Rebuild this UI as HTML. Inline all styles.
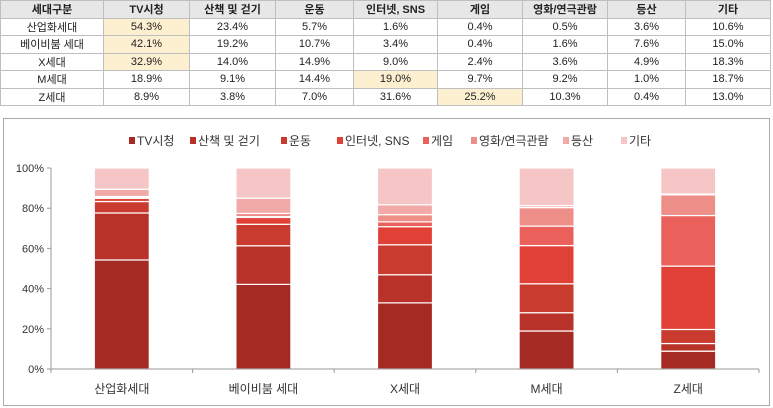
<!DOCTYPE html>
<html><head><meta charset="utf-8">
<style>
body{margin:0;width:773px;height:408px;background:#fff;font-family:"Liberation Sans","Noto Sans CJK KR",sans-serif;overflow:hidden;position:relative}
table{position:absolute;left:0;top:0;border-collapse:collapse;font-size:11px;color:#222}
td,th{border:1px solid #bfbfbf;text-align:center;height:16.5px;padding:0}
th{background:#e7e7e7;font-weight:bold;color:#222}
td.h{background:#fdf0d0}
#chart{position:absolute;left:0;top:0}
</style></head><body>
<table>
<colgroup><col style="width:103px"><col style="width:86px"><col style="width:86px"><col style="width:78px"><col style="width:84px"><col style="width:85px"><col style="width:85px"><col style="width:78px"><col style="width:85px"></colgroup>
<tr><th>세대구분</th><th>TV시청</th><th>산책 및 걷기</th><th>운동</th><th>인터넷, SNS</th><th>게임</th><th>영화/연극관람</th><th>등산</th><th>기타</th></tr>
<tr><td>산업화세대</td><td class="h">54.3%</td><td>23.4%</td><td>5.7%</td><td>1.6%</td><td>0.4%</td><td>0.5%</td><td>3.6%</td><td>10.6%</td></tr>
<tr><td>베이비붐 세대</td><td class="h">42.1%</td><td>19.2%</td><td>10.7%</td><td>3.4%</td><td>0.4%</td><td>1.6%</td><td>7.6%</td><td>15.0%</td></tr>
<tr><td>X세대</td><td class="h">32.9%</td><td>14.0%</td><td>14.9%</td><td>9.0%</td><td>2.4%</td><td>3.6%</td><td>4.9%</td><td>18.3%</td></tr>
<tr><td>M세대</td><td>18.9%</td><td>9.1%</td><td>14.4%</td><td class="h">19.0%</td><td>9.7%</td><td>9.2%</td><td>1.0%</td><td>18.7%</td></tr>
<tr><td>Z세대</td><td>8.9%</td><td>3.8%</td><td>7.0%</td><td>31.6%</td><td class="h">25.2%</td><td>10.3%</td><td>0.4%</td><td>13.0%</td></tr>
</table>
<svg id="chart" width="773" height="408" xmlns="http://www.w3.org/2000/svg">
<rect x="3.5" y="118.5" width="766" height="287" fill="none" stroke="#aaa"/>
<g id="g"></g>
</svg>
<script>
const categories=["산업화세대","베이비붐 세대","X세대","M세대","Z세대"];
const seriesNames=["TV시청","산책 및 걷기","운동","인터넷, SNS","게임","영화/연극관람","등산","기타"];
const tv=[54.3,42.1,32.9,18.9,8.9];
const walk=[23.4,19.2,14.0,9.1,3.8];
const exercise=[5.7,10.7,14.9,14.4,7.0];
const internet=[1.6,3.4,9.0,19.0,31.6];
const game=[0.4,0.4,2.4,9.7,25.2];
const movie=[0.5,1.6,3.6,9.2,10.3];
const hiking=[3.6,7.6,4.9,1.0,0.4];
const etc=[10.6,15.0,18.3,18.7,13.0];
const yTicks=["0%","20%","40%","60%","80%","100%"];
const series=[tv,walk,exercise,internet,game,movie,hiking,etc];
const colors=["#a52a23","#b9322a","#c93a2f","#e04035","#ea605a","#ee8e89","#f2aaa8","#f6c6c6"];
const NS="http://www.w3.org/2000/svg";
const g=document.getElementById('g');
const X0=51,X1=759,Y0=369,Y1=168;
const step=(X1-X0)/categories.length;
const xc=i=>X0+step*(i+0.5);
const y=v=>Y0-(v/100)*(Y0-Y1);
function mk(t,a){const e=document.createElementNS(NS,t);for(const k in a)e.setAttribute(k,a[k]);g.appendChild(e);return e;}
// y ticks
yTicks.forEach((t,i)=>{const e=mk('text',{x:44,y:y(i*20)+4,'text-anchor':'end','font-size':11,fill:'#333'});e.textContent=t;

});
// bars
categories.forEach((c,i)=>{let acc=0;const tot=series.reduce((s,a)=>s+a[i],0);
series.forEach((s,k)=>{const v=s[i]/tot*100;const r=mk('rect',{x:xc(i)-27.5,y:y(acc+v),width:55,height:Math.max(0,y(acc)-y(acc+v)),fill:colors[k],stroke:'#fff','stroke-width':1.2});

acc+=v;});
const l=mk('text',{x:xc(i),y:393,'text-anchor':'middle','font-size':12,fill:'#333'});l.textContent=c;

});
// axes
const ax=mk('line',{x1:X0,y1:Y0,x2:X1,y2:Y0,stroke:'#999'});


const ay=mk('line',{x1:X0,y1:Y1,x2:X0,y2:Y0,stroke:'#999'});


for(let i=0;i<=5;i++){const t=mk('line',{x1:X0-4,x2:X0,y1:y(i*20),y2:y(i*20),stroke:'#999'});

}
for(let i=0;i<=categories.length;i++){const t=mk('line',{x1:X0+step*i,x2:X0+step*i,y1:Y0,y2:Y0+4,stroke:'#999'});

}
// legend
const lx=[129,190,281,337,423,471,563,621];
seriesNames.forEach((n,k)=>{const r=mk('rect',{x:lx[k],y:137,width:6,height:7,fill:colors[k]});


const t=mk('text',{x:lx[k]+8,y:145,'font-size':12,fill:'#333'});t.textContent=n;

});
</script>
</body></html>
